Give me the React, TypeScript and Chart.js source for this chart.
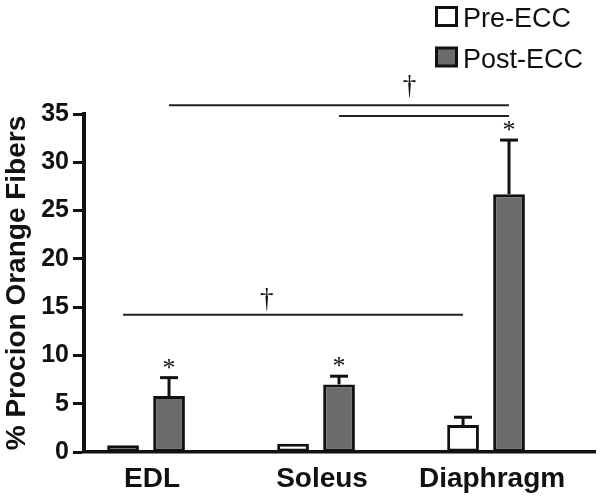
import React, { useEffect, useRef } from 'react';
import { Chart, registerables } from 'chart.js';

Chart.register(...registerables);

const categories = ['EDL', 'Soleus', 'Diaphragm'];
const seriesLabels = ['Pre-ECC', 'Post-ECC'];
const preValues = [0.7, 0.85, 2.8];
const preErrors = [0, 0, 0.8];
const postValues = [5.8, 7.0, 26.7];
const postErrors = [1.9, 0.85, 5.6];
const postStars = [true, true, true];
const yTickMin = 0;
const yTickMax = 35;
const yTickStep = 5;
const yTitle = '% Procion Orange Fibers';

// significance lines: [datasetIndex, categoryIndex] endpoints and height
const lineFrom = [[0, 0], [1, 0], [1, 1]];
const lineTo = [[0, 2], [1, 2], [1, 2]];
const lineY = [14.2, 35.9, 34.8];
// dagger marks (x in category units, y in value units)
const daggerX = [0.71, 1.55];
const daggerY = [15.0, 37.05];

const SANS = '"Liberation Sans", Arial, Helvetica, sans-serif';
const SERIF = '"Liberation Serif", "Times New Roman", serif';
const INK = '#111111';
const GRAY = '#6b6b6b';
const fills = ['#ffffff', GRAY];

const annotPlugin = {
  id: 'annot',
  afterDatasetsDraw(chart: any) {
    const ctx = chart.ctx;
    const ys = chart.scales.y;
    const xs = chart.scales.x;
    const vals = [preValues, postValues];
    const errs = [preErrors, postErrors];
    ctx.save();
    ctx.strokeStyle = INK;
    ctx.lineWidth = 3;
    for (let d = 0; d < 2; d++) {
      const meta = chart.getDatasetMeta(d);
      meta.data.forEach((bar: any, i: number) => {
        const e = errs[d][i];
        if (!e) return;
        const base = ys.getPixelForValue(vals[d][i]);
        const top = ys.getPixelForValue(vals[d][i] + e);
        ctx.beginPath();
        ctx.moveTo(bar.x, base);
        ctx.lineTo(bar.x, top);
        ctx.stroke();
        ctx.beginPath();
        ctx.moveTo(bar.x - 9, top);
        ctx.lineTo(bar.x + 9, top);
        ctx.stroke();
      });
    }
    // asterisks
    ctx.fillStyle = INK;
    ctx.font = `26px ${SERIF}`;
    ctx.textAlign = 'center';
    ctx.textBaseline = 'alphabetic';
    const postMeta = chart.getDatasetMeta(1);
    postMeta.data.forEach((bar: any, i: number) => {
      if (!postStars[i]) return;
      const top = ys.getPixelForValue(postValues[i] + postErrors[i]);
      ctx.fillText('*', bar.x, top - 2);
    });
    // significance lines
    ctx.lineWidth = 2;
    ctx.strokeStyle = '#222222';
    for (let k = 0; k < lineY.length; k++) {
      const a = chart.getDatasetMeta(lineFrom[k][0]).data[lineFrom[k][1]];
      const b = chart.getDatasetMeta(lineTo[k][0]).data[lineTo[k][1]];
      const py = ys.getPixelForValue(lineY[k]);
      ctx.beginPath();
      ctx.moveTo(a.x, py);
      ctx.lineTo(b.x, py);
      ctx.stroke();
    }
    ctx.font = `27px ${SERIF}`;
    for (let k = 0; k < daggerX.length; k++) {
      ctx.fillText('\u2020', xs.getPixelForValue(daggerX[k]), ys.getPixelForValue(daggerY[k]));
    }
    ctx.restore();
  },
  afterDraw(chart: any) {
    const ctx = chart.ctx;
    ctx.save();
    ctx.font = `27px ${SANS}`;
    ctx.textAlign = 'left';
    ctx.textBaseline = 'alphabetic';
    seriesLabels.forEach((lab, i) => {
      const top = 6 + i * 40.5;
      ctx.fillStyle = fills[i];
      ctx.fillRect(436, top + 1, 21, 19);
      ctx.strokeStyle = INK;
      ctx.lineWidth = 3;
      ctx.strokeRect(436.5, top + 1.5, 20, 18);
      ctx.fillStyle = INK;
      ctx.fillText(lab, 463, top + 21);
    });
    ctx.restore();
  },
};

export default function App() {
  const ref = useRef<HTMLCanvasElement | null>(null);
  useEffect(() => {
    if (!ref.current) return;
    const chart = new Chart(ref.current, {
      type: 'bar',
      data: {
        datasets: [
          {
            label: seriesLabels[0],
            data: preValues.map((v, i) => ({ x: i, y: v })),
            backgroundColor: fills[0],
            borderColor: INK,
            borderWidth: 3,
            borderSkipped: false,
            categoryPercentage: 0.541,
            barPercentage: 0.69,
          },
          {
            label: seriesLabels[1],
            data: postValues.map((v, i) => ({ x: i, y: v })),
            backgroundColor: fills[1],
            borderColor: INK,
            borderWidth: 3,
            borderSkipped: false,
            categoryPercentage: 0.541,
            barPercentage: 0.69,
          },
        ],
      } as any,
      options: {
        animation: false,
        responsive: false,
        layout: { padding: { top: 114, right: 6, bottom: 0, left: 0 } },
        plugins: {
          legend: { display: false },
          tooltip: { enabled: false },
          title: { display: false },
        },
        scales: {
          x: {
            type: 'linear',
            min: -0.365,
            max: 2.641,
            offset: false,
            grid: { display: false, drawTicks: false, offset: false },
            border: { display: true, color: INK, width: 3.5 },
            afterBuildTicks: (s: any) => {
              s.ticks = categories.map((_, i) => ({ value: i }));
            },
            afterFit: (s: any) => {
              s.height = 48;
            },
            ticks: {
              callback: (v: any) => categories[v] ?? '',
              font: { family: SANS, size: 28, weight: 'bold' },
              color: INK,
              padding: 10,
              labelOffset: 6,
              maxRotation: 0,
              autoSkip: false,
            },
          },
          y: {
            min: yTickMin,
            max: yTickMax,
            ticks: {
              stepSize: yTickStep,
              font: { family: SANS, size: 25, weight: 'bold' },
              color: INK,
              padding: 4,
            },
            grid: {
              display: true,
              drawOnChartArea: false,
              drawTicks: true,
              tickLength: 11,
              tickWidth: 3,
              tickColor: INK,
            },
            border: { display: true, color: INK, width: 4 },
            title: {
              display: true,
              text: yTitle,
              font: { family: SANS, size: 28, weight: 'bold' },
              color: INK,
              padding: 0,
            },
            afterFit: (s: any) => {
              s.width = 84;
            },
          },
        },
      } as any,
      plugins: [annotPlugin],
    });
    return () => chart.destroy();
  }, []);
  return (
    <div style={{ position: 'fixed', left: 0, top: 0, width: 601, height: 500, background: '#fff' }}>
      <canvas ref={ref} width={601} height={500} style={{ display: 'block' }} />
    </div>
  );
}
